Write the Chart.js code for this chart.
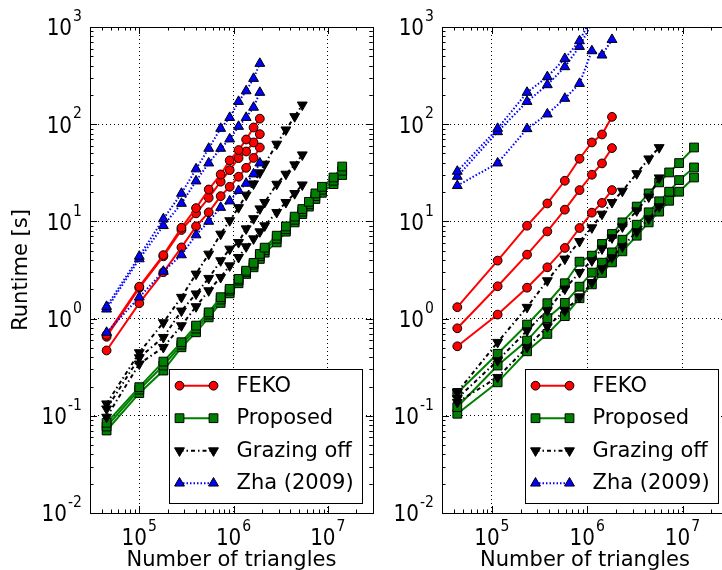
<!DOCTYPE html>
<html><head><meta charset="utf-8">
<script src="https://cdn.jsdelivr.net/npm/chart.js@4/dist/chart.umd.min.js"></script>
<style>
html,body{margin:0;padding:0;background:#fff;overflow:hidden;width:722px;height:570px;}
#wrap{position:relative;width:722px;height:570px;overflow:hidden;}
</style></head><body>
<div id="wrap">
<div style="position:absolute;left:0;top:0;width:380px;height:570px"><canvas id="cL" width="380" height="570"></canvas></div>
<div style="position:absolute;left:380px;top:0;width:360px;height:570px"><canvas id="cR" width="360" height="570"></canvas></div>
</div>
<script>
// ---------- data (left panel) ----------
const xLeft = [4.5e4, 1.0e5, 1.8e5, 2.8e5, 4.0e5, 5.45e5, 7.3e5, 9.1e5, 1.13e6, 1.36e6, 1.63e6, 1.9e6, 2.14e6, 2.87e6, 3.59e6, 4.45e6, 5.36e6, 6.3e6, 7.38e6, 8.66e6, 1.15e7, 1.42e7];
const fekoL1 = [0.68, 2.13, 4.5, 8.6, 13.7, 21.3, 30.4, 42.4, 54.2, 69.6, 92.5, 114];
const fekoL2 = [0.65, 2.07, 4.37, 8.16, 12.1, 17.5, 25.6, 33.7, 44.8, 52.4, 64.9, 79];
const fekoL3 = [0.47, 1.44, 3.0, 5.4, 8.9, 12.4, 18.2, 22.7, 28.8, 35.6, 45, 57.6];
const propL1 = [0.0847, 0.197, 0.361, 0.571, 0.847, 1.16, 1.66, 2.02, 2.56, 3.11, 3.74, 4.62, 5.37, 7.13, 8.88, 11.2, 13.4, 15.9, 19.4, 22.7, 28.3, 36.7];
const propL2 = [0.0776, 0.186, 0.329, 0.540, 0.789, 1.10, 1.57, 1.94, 2.46, 3.0, 3.59, 4.39, 5.06, 6.64, 8.31, 10.4, 12.6, 15.0, 18.2, 21.2, 26.2, 33.2];
const propL3 = [0.0706, 0.171, 0.292, 0.507, 0.723, 1.03, 1.45, 1.82, 2.31, 2.88, 3.37, 4.11, 4.77, 6.08, 7.84, 9.77, 11.9, 14.2, 17.0, 19.7, 24.2, 30.0];
const grazL1 = [0.133, 0.447, 0.91, 1.66, 2.88, 4.62, 7.42, 10.2, 13.9, 18.7, 24.4, 31.7, 38.9, 62.5, 87.6, 120, 158];
const grazL2 = [0.118, 0.397, 0.642, 1.2, 1.8, 2.6, 3.95, 5.2, 6.08, 8.41, 10.7, 13.5, 15.7, 24.2, 30.7, 38.3, 48.5];
const grazL3 = [0.097, 0.342, 0.507, 0.847, 1.33, 1.94, 2.66, 3.5, 4.27, 5.5, 6.64, 7.84, 9.03, 12.4, 15.7, 19.4, 23.8];
const zhaL1 = [1.33, 4.37, 10.6, 19.4, 34.6, 56.3, 90.3, 117, 171, 220, 295, 421];
const zhaL2 = [1.25, 4.11, 9.03, 15.3, 26.0, 39.8, 56.3, 70.3, 94.7, 117, 149, 212];
const zhaL3 = [0.72, 1.66, 3.06, 4.52, 7.25, 10.0, 13.9, 16.2, 20.7, 24.6, 30.7, 39.8];

// ---------- data (right panel) ----------
const xRight = [4.34e4, 1.15e5, 2.34e5, 3.82e5, 5.83e5, 8.31e5, 1.12e6, 1.43e6, 1.82e6, 2.34e6, 3.31e6, 4.42e6, 5.69e6, 7.24e6, 9.21e6, 1.32e7];
const fekoR1 = [1.31, 3.95, 9.03, 15.3, 26.2, 44.1, 64.9, 78.4, 119];
const fekoR2 = [0.795, 2.15, 4.55, 7.89, 13.2, 21.0, 30.2, 39.5, 56.8];
const fekoR3 = [0.519, 1.10, 2.08, 3.37, 5.33, 8.55, 12.3, 15.5, 21.0];
const propR1 = [0.172, 0.434, 0.868, 1.44, 2.31, 3.85, 4.44, 5.86, 7.42, 9.77, 14.2, 19.4, 25.2, 31.9, 39.8, 57.6];
const propR2 = [0.123, 0.329, 0.594, 1.01, 1.45, 2.13, 2.97, 3.76, 4.80, 6.48, 9.25, 12.4, 16.1, 20.2, 26.6, 35.9];
const propR3 = [0.105, 0.221, 0.461, 0.696, 1.06, 1.62, 2.25, 2.95, 3.79, 4.92, 7.13, 9.77, 12.6, 16.3, 20.2, 28.3];
const grazR1 = [0.175, 0.571, 1.31, 2.46, 4.11, 6.23, 8.62, 11.9, 15.7, 20.5, 31.1, 44.1, 57.6];
const grazR2 = [0.151, 0.370, 0.753, 1.21, 2.02, 2.99, 3.95, 5.24, 6.80, 8.82, 12.9, 17.9, 28.1];
const grazR3 = [0.138, 0.249, 0.507, 0.828, 1.21, 1.66, 2.36, 3.27, 4.24, 5.50, 7.84, 10.7, 14.2];
const zhaR1 = [32.7, 90.3, 212, 307, 473, 720, 1270];
const zhaR2 = [29.0, 83.5, 171, 254, 389, 629, 1100];
const zhaR3 = [23.3, 39.8, 89.7, 127, 184, 262, 568, 513, 742];

// ---------- labels ----------
const legendLabels = ['FEKO', 'Proposed', 'Grazing off', 'Zha (2009)'];
const yTickValues = [1e-2, 1e-1, 1, 10, 100, 1000];
const yTickExponents = ['-2', '-1', '0', '1', '2', '3'];
const xTickValues = [1e5, 1e6, 1e7];
const xTickExponents = ['5', '6', '7'];
const tickBase = '10';
const xTitle = 'Number of triangles';
const yTitle = 'Runtime [s]';

Chart.defaults.font.family = '"DejaVu Sans", sans-serif';
Chart.defaults.color = '#000';

const STY = [
  {color:'#ff0000', shape:'circle',   r:4.4, rot:0,   dash:[],          order:4},
  {color:'#008000', shape:'rect',     r:6.2, rot:0,   dash:[],          order:3},
  {color:'#000000', shape:'triangle', r:5.7, rot:180, dash:[4,3,1.5,3], order:2},
  {color:'#0000ff', shape:'triangle', r:5.7, rot:0,   dash:[1.5,2],     order:1}
];

function ds(xs, ys, g){
  const s = STY[g];
  return {
    label: legendLabels[g],
    data: ys.map((v,i)=>({x:xs[i], y:v})),
    borderColor: s.color, backgroundColor: s.color, borderWidth: 2, borderDash: s.dash,
    pointStyle: s.shape, pointRotation: s.rot, pointRadius: s.r,
    pointBackgroundColor: s.color, pointBorderColor:'#000', pointBorderWidth:1,
    tension:0, order:s.order, clip:0
  };
}

function marker(ctx, s, x, y){
  ctx.save();
  ctx.fillStyle = s.color; ctx.strokeStyle = '#000'; ctx.lineWidth = 1; ctx.setLineDash([]);
  ctx.beginPath();
  if (s.shape === 'circle') { ctx.arc(x, y, s.r, 0, Math.PI*2); }
  else if (s.shape === 'rect') { const h = s.r*Math.SQRT1_2; ctx.rect(x-h, y-h, 2*h, 2*h); }
  else {
    let rad = s.rot*Math.PI/180;
    ctx.moveTo(x + Math.sin(rad)*s.r, y - Math.cos(rad)*s.r);
    rad += 2*Math.PI/3; ctx.lineTo(x + Math.sin(rad)*s.r, y - Math.cos(rad)*s.r);
    rad += 2*Math.PI/3; ctx.lineTo(x + Math.sin(rad)*s.r, y - Math.cos(rad)*s.r);
    ctx.closePath();
  }
  ctx.fill(); ctx.stroke();
  ctx.restore();
}

// power-of-ten tick label: "10" with raised exponent
const BASE_PX = 20, SUP_PX = 14, SY = 1.15;
function sciLabel(ctx, exp, x, baseline, align){
  ctx.save();
  ctx.fillStyle = '#000'; ctx.textBaseline = 'alphabetic'; ctx.textAlign = 'left';
  ctx.font = BASE_PX + 'px "DejaVu Sans"'; const wb = ctx.measureText(tickBase).width;
  ctx.font = SUP_PX + 'px "DejaVu Sans"'; const we = ctx.measureText(exp).width;
  const total = wb + 1 + we;
  const x0 = align === 'right' ? x - total : x - total/2;
  ctx.translate(x0, baseline); ctx.scale(1, SY);
  ctx.font = BASE_PX + 'px "DejaVu Sans"'; ctx.fillText(tickBase, 0, 0);
  ctx.font = SUP_PX + 'px "DejaVu Sans"'; ctx.fillText(exp, wb + 1, -12.4);
  ctx.restore();
}

const decor = {
  id:'decor',
  afterDraw(chart){
    const ctx = chart.ctx, a = chart.chartArea, xs = chart.scales.x, ys = chart.scales.y;
    ctx.save();
    ctx.strokeStyle = '#000'; ctx.lineWidth = 1; ctx.setLineDash([]);
    ctx.beginPath();
    for (let e=-2; e<=3; e++) for (let k=1; k<=9; k++) {
      const v = k*Math.pow(10,e); if (v > 1000.0001) break;
      const p = Math.round(ys.getPixelForValue(v)) + 0.5, L = k===1 ? 7 : 3.5;
      ctx.moveTo(a.left, p); ctx.lineTo(a.left+L, p);
      ctx.moveTo(a.right, p); ctx.lineTo(a.right-L, p);
    }
    for (let e=4; e<=7; e++) for (let k=1; k<=9; k++) {
      const v = k*Math.pow(10,e); if (v < xs.min || v > xs.max) continue;
      const p = Math.round(xs.getPixelForValue(v)) + 0.5, L = k===1 ? 7 : 3.5;
      ctx.moveTo(p, a.bottom); ctx.lineTo(p, a.bottom-L);
      ctx.moveTo(p, a.top); ctx.lineTo(p, a.top+L);
    }
    ctx.stroke();
    ctx.strokeRect(Math.round(a.left)+0.5, Math.round(a.top)+0.5, Math.round(a.right-a.left), Math.round(a.bottom-a.top));
    // tick labels
    const capH = 0.729*BASE_PX*SY;
    yTickValues.forEach((v,i)=>{ sciLabel(ctx, yTickExponents[i], a.left - 8, ys.getPixelForValue(v) + capH/2, 'right'); });
    xTickValues.forEach((v,i)=>{ sciLabel(ctx, xTickExponents[i], xs.getPixelForValue(v), a.bottom + 32, 'center'); });
    // legend
    const bw = 192.5, bh = 133.5;
    const bx = Math.round(a.right - 11 - bw), by = Math.round(a.bottom - 11 - bh);
    ctx.fillStyle = '#fff'; ctx.fillRect(bx, by, bw, bh);
    ctx.strokeStyle = '#000'; ctx.lineWidth = 1;
    ctx.strokeRect(bx+0.5, by+0.5, Math.round(bw), Math.round(bh));
    legendLabels.forEach((lab, i) => {
      const s = STY[i]; const yy = by + 16.7 + i*32.5; const x1 = bx + 10.5, x2 = bx + 44.5;
      ctx.save(); ctx.strokeStyle = s.color; ctx.lineWidth = 2; ctx.setLineDash(s.dash);
      ctx.beginPath(); ctx.moveTo(x1, yy); ctx.lineTo(x2, yy); ctx.stroke(); ctx.restore();
      marker(ctx, s, x1, yy); marker(ctx, s, x2, yy);
      ctx.fillStyle = '#000'; ctx.font = '21px "DejaVu Sans"'; ctx.textBaseline = 'middle'; ctx.textAlign = 'left';
      ctx.fillText(lab, bx + 67.5, yy + 0.5);
    });
    ctx.restore();
  }
};

function makeChart(id, groups, showYTitle, padRight, yWidth){
  const datasets = groups.map(([g, xs, ys]) => ds(xs, ys, g));
  return new Chart(document.getElementById(id), {
    type:'line',
    data:{datasets},
    options:{
      responsive:false, animation:false, devicePixelRatio:1,
      layout:{padding:{top:27, right:padRight, left:0, bottom:0}},
      plugins:{legend:{display:false}, tooltip:{enabled:false}},
      scales:{
        x:{type:'logarithmic', position:'bottom', min:3e4, max:3e7,
          afterBuildTicks:s=>{ s.ticks = xTickValues.map(v=>({value:v})); },
          afterFit:s=>{ s.height = 57; },
          ticks:{display:false, autoSkip:false},
          grid:{color:'#000', lineWidth:1, drawTicks:false},
          border:{display:false, dash:[1,3]},
          title:{display:true, text:xTitle, color:'#000', font:{size:21}, padding:{top:0, bottom:-3}}
        },
        y:{type:'logarithmic', position:'left', min:1e-2, max:1e3,
          afterBuildTicks:s=>{ s.ticks = yTickValues.map(v=>({value:v})); },
          afterFit:s=>{ s.width = yWidth; },
          ticks:{display:false, autoSkip:false},
          grid:{color:'#000', lineWidth:1, drawTicks:false},
          border:{display:false, dash:[1,3]},
          title:{display:showYTitle, text:yTitle, color:'#000', font:{size:21}, padding:{top:9, bottom:0}}
        }
      }
    },
    plugins:[decor]
  });
}

makeChart('cL', [
  [0, xLeft, fekoL1], [0, xLeft, fekoL2], [0, xLeft, fekoL3],
  [1, xLeft, propL1], [1, xLeft, propL2], [1, xLeft, propL3],
  [2, xLeft, grazL1], [2, xLeft, grazL2], [2, xLeft, grazL3],
  [3, xLeft, zhaL1], [3, xLeft, zhaL2], [3, xLeft, zhaL3]
], true, 4, 90);

makeChart('cR', [
  [0, xRight, fekoR1], [0, xRight, fekoR2], [0, xRight, fekoR3],
  [1, xRight, propR1], [1, xRight, propR2], [1, xRight, propR3],
  [2, xRight, grazR1], [2, xRight, grazR2], [2, xRight, grazR3],
  [3, xRight, zhaR1], [3, xRight, zhaR2], [3, xRight, zhaR3]
], false, 12, 62);
</script>
</body></html>
